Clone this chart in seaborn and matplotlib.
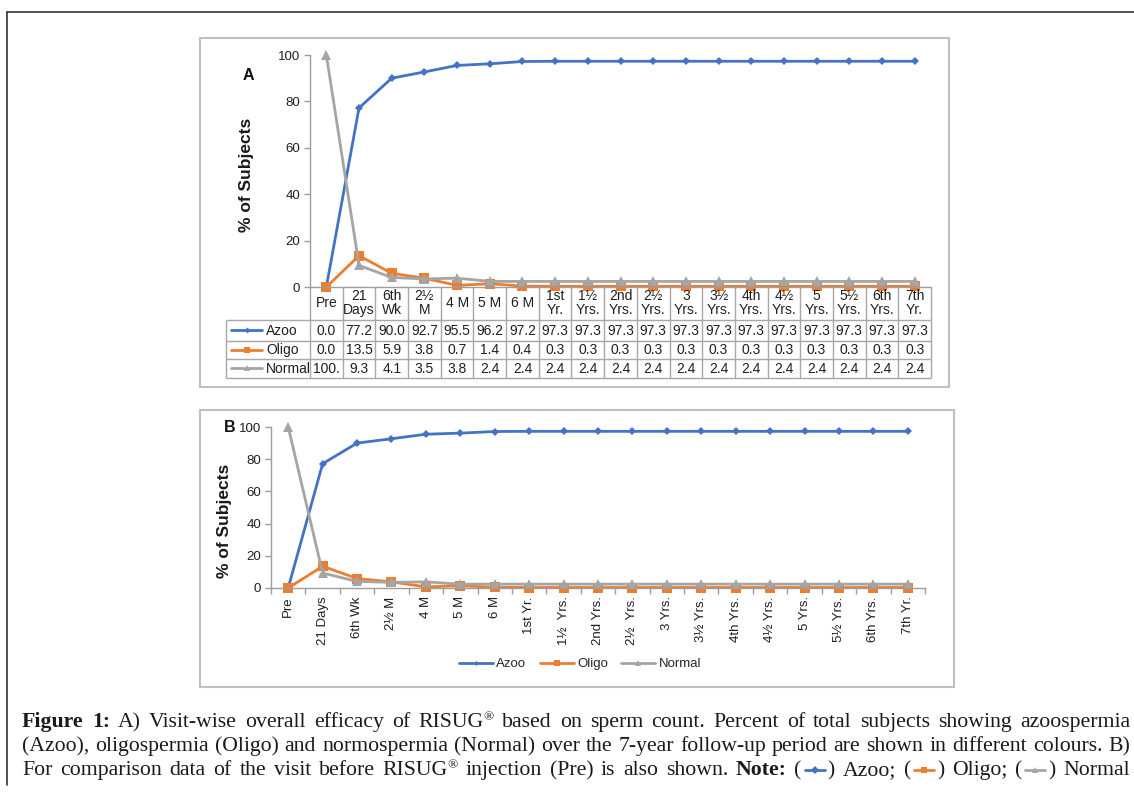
import matplotlib
matplotlib.use('Agg')
import matplotlib.pyplot as plt
from matplotlib.lines import Line2D
from matplotlib.patches import Rectangle
import numpy as np
import pandas as pd
import seaborn as sns

# visits (x axis) and the three outcome series (% of subjects)
visits = ['Pre', '21 Days', '6th Wk', '2½ M', '4 M', '5 M', '6 M', '1st Yr.',
          '1½  Yrs.', '2nd Yrs.', '2½  Yrs.', '3 Yrs.', '3½ Yrs.', '4th Yrs.',
          '4½ Yrs.', '5 Yrs.', '5½ Yrs.', '6th Yrs.', '7th Yr.']
table_heads = ['Pre', '21\nDays', '6th\nWk', '2½\nM', '4 M', '5 M', '6 M', '1st\nYr.',
               '1½\nYrs.', '2nd\nYrs.', '2½\nYrs.', '3\nYrs.', '3½\nYrs.', '4th\nYrs.',
               '4½\nYrs.', '5\nYrs.', '5½\nYrs.', '6th\nYrs.', '7th\nYr.']
azoo = [0.0, 77.2, 90.0, 92.7, 95.5, 96.2, 97.2, 97.3, 97.3, 97.3,
        97.3, 97.3, 97.3, 97.3, 97.3, 97.3, 97.3, 97.3, 97.3]
oligo = [0.0, 13.5, 5.9, 3.8, 0.7, 1.4, 0.4, 0.3, 0.3, 0.3,
         0.3, 0.3, 0.3, 0.3, 0.3, 0.3, 0.3, 0.3, 0.3]
normal = [100.0, 9.3, 4.1, 3.5, 3.8, 2.4, 2.4, 2.4, 2.4, 2.4,
          2.4, 2.4, 2.4, 2.4, 2.4, 2.4, 2.4, 2.4, 2.4]
series = ['Azoo', 'Oligo', 'Normal']

df = pd.DataFrame({'pos': list(range(len(visits))) * 3,
                   'series': ['Azoo'] * len(visits) + ['Oligo'] * len(visits) + ['Normal'] * len(visits),
                   'value': azoo + oligo + normal})

colors = {'Azoo': '#4472C4', 'Oligo': '#ED7D31', 'Normal': '#A5A5A5'}
markers = {'Azoo': 'D', 'Oligo': 's', 'Normal': '^'}
msizes = {'Azoo': 4.5, 'Oligo': 6.5, 'Normal': 6.5}

sns.set_style('white')
plt.rcParams['font.family'] = ['Liberation Sans', 'DejaVu Sans']
narrow = ['Liberation Sans Narrow', 'Liberation Sans', 'DejaVu Sans']
axis_grey = '#9E9E9E'
txt_col = '#1f1f1f'

W, H = 1134, 798
fig = plt.figure(figsize=(W / 100, H / 100), dpi=100)


def box(l, t, r, b):
    return [l / W, 1 - b / H, (r - l) / W, (b - t) / H]


def draw_lines(ax):
    for name in series:
        sns.lineplot(data=df[df['series'] == name], x='pos', y='value', ax=ax,
                     color=colors[name], marker=markers[name], markersize=msizes[name],
                     markeredgewidth=0, linewidth=2, errorbar=None, sort=False,
                     clip_on=False, legend=False)
    ax.set_xlim(-0.5, len(visits) - 0.5)
    ax.set_ylim(0, 100)
    ax.set_yticks(range(0, 101, 20))
    ax.set_xlabel('')
    ax.set_ylabel('')
    for s in ['top', 'right']:
        ax.spines[s].set_visible(False)
    for s in ['left', 'bottom']:
        ax.spines[s].set_color(axis_grey)
        ax.spines[s].set_linewidth(1)
    ax.tick_params(axis='y', left=True, length=4, width=1, color=axis_grey,
                   labelsize=9.5, labelcolor=txt_col, pad=3)


# outer frame and panel boxes
fig.add_artist(Line2D([7 / W, 7 / W], [1 - 12 / H, 1 - 785 / H], color='#333333', lw=1.2))
fig.add_artist(Line2D([7 / W, 1], [1 - 12 / H, 1 - 12 / H], color='#333333', lw=1.2))
fig.add_artist(Rectangle((200 / W, 1 - 387 / H), 749 / W, 349 / H, fill=False,
                         ec='#C0C0C0', lw=1.5, transform=fig.transFigure))
fig.add_artist(Rectangle((200 / W, 1 - 687 / H), 754 / W, 277 / H, fill=False,
                         ec='#C0C0C0', lw=1.5, transform=fig.transFigure))

# ---------------- panel A with data table ----------------
axA = fig.add_axes(box(310, 55, 931, 287))
draw_lines(axA)
axA.set_xticks([])
fig.text(247 / W, 1 - 175 / H, '% of Subjects', rotation=90, ha='center', va='center',
         fontsize=12.5, fontweight='bold', color='#1a1a1a')
fig.text(248 / W, 1 - 75 / H, 'A', ha='center', va='center', fontsize=11.5,
         fontweight='bold', color='#111111')

axT = fig.add_axes(box(226, 287, 931, 378))
axT.axis('off')
colw = (931 - 310) / len(visits)
x0 = -0.5 - (310 - 226) / colw
xr = len(visits) - 0.5
axT.set_xlim(x0, xr)
axT.set_ylim(91, 0)
rows = [0, 33, 54, 72, 91]
grid = '#A8A8A8'
axT.vlines(np.arange(-0.5, len(visits), 1.0), 0, 91, color=grid, lw=1, clip_on=False)
axT.vlines([x0], 33, 91, color=grid, lw=1, clip_on=False)
axT.hlines(rows[1:], x0, xr, color=grid, lw=1, clip_on=False)
for i, h in enumerate(table_heads):
    axT.text(i, 16.5, h, ha='center', va='center', fontsize=10, family=narrow,
             color=txt_col, linespacing=1.0)
for r, (name, vals) in enumerate(zip(series, [azoo, oligo, normal])):
    yc = (rows[r + 1] + rows[r + 2]) / 2
    for i, v in enumerate(vals):
        axT.text(i, yc + 0.5, f'{v:.1f}'[:4], ha='center', va='center', fontsize=10,
                 family=narrow, color=txt_col)
    xa = x0 + 5 / colw
    xb = x0 + 36 / colw
    axT.plot([xa, (xa + xb) / 2, xb], [yc, yc, yc], color=colors[name], lw=2,
             marker=markers[name], markersize=msizes[name] - 1.5, markevery=[1],
             markeredgewidth=0, clip_on=False)
    axT.text(x0 + 40 / colw, yc + 0.5, name, ha='left', va='center', fontsize=10,
             family=narrow, color=txt_col)

# ---------------- panel B ----------------
axB = fig.add_axes(box(271, 427, 925, 588))
draw_lines(axB)
axB.set_xticks(range(len(visits)))
axB.set_xticklabels(visits, rotation=90, fontsize=9.5, color=txt_col, family=narrow)
axB.set_xticks(np.arange(-0.5, len(visits), 1.0), minor=True)
axB.tick_params(axis='x', which='major', length=0, pad=6)
axB.tick_params(axis='x', which='minor', bottom=True, length=4, width=1, color=axis_grey)
fig.text(225 / W, 1 - 521 / H, '% of Subjects', rotation=90, ha='center', va='center',
         fontsize=12.5, fontweight='bold', color='#1a1a1a')
fig.text(230 / W, 1 - 428 / H, 'B', ha='center', va='center', fontsize=11.5,
         fontweight='bold', color='#111111')

handles = [Line2D([], [], color=colors[n], lw=2, marker=markers[n], markersize=msizes[n] - 2,
                  markeredgewidth=0) for n in series]
fig.legend(handles, series, loc='center', bbox_to_anchor=(580 / W, 1 - 664 / H), ncol=3,
           frameon=False, handlelength=2.6, handletextpad=0.25,
           columnspacing=1.0, prop={'family': narrow, 'size': 9.5})

# ---------------- caption (justified lines) ----------------
cap_family = ['Liberation Serif', 'DejaVu Serif']
cap_size = 15.7
reg = dict(family=cap_family, size=cap_size, color='#1a1a1a')
bold = dict(family=cap_family, size=cap_size, color='#1a1a1a', weight='bold')
sup = dict(family=cap_family, size=9.5, color='#1a1a1a')


def words(text, style=reg):
    return [[(w, style)] for w in text.split(' ')]


cap_lines = [
    [[('Figure', bold)], [('1:', bold)], [('A)', reg)]] + words('Visit-wise overall efficacy of')
    + [[('RISUG', reg), ('®', sup)]] + words('based on sperm count. Percent of total subjects showing azoospermia'),
    words('(Azoo), oligospermia (Oligo) and normospermia (Normal) over the 7-year follow-up period are shown in different colours. B)'),
    words('For comparison data of the visit before') + [[('RISUG', reg), ('®', sup)]]
    + words('injection (Pre) is also shown.') + [[('Note:', bold)]]
    + [[('(', reg), ('#Azoo', None), (')', reg)], [('Azoo;', reg)],
       [('(', reg), ('#Oligo', None), (')', reg)], [('Oligo;', reg)],
       [('(', reg), ('#Normal', None), (')', reg)], [('Normal', reg)]],
]
baselines = [727, 751, 775]
left, right = 22, 1130
glyph_w = 26
renderer = fig.canvas.get_renderer()

for line, base in zip(cap_lines, baselines):
    placed = []
    total = 0
    for word in line:
        items = []
        for txt, st in word:
            if st is None:
                items.append((txt, None, glyph_w))
                continue
            dy = 7 if st is sup else 0
            t = fig.text(0, 1 - (base - dy) / H, txt, va='baseline', ha='left', **st)
            wpx = t.get_window_extent(renderer).width
            items.append((txt, t, wpx))
        placed.append(items)
        total += sum(it[2] for it in items)
    gap = max((right - left - total) / (len(line) - 1), 3)
    x = left
    for items in placed:
        for txt, t, wpx in items:
            if t is None:
                n = txt[1:]
                yy = 1 - (base - 5) / H
                fig.add_artist(Line2D([(x + 3) / W, (x + wpx / 2) / W, (x + wpx - 3) / W], [yy, yy, yy],
                                      color=colors[n], lw=2, marker=markers[n], markevery=[1],
                                      markersize=4, markeredgewidth=0))
            else:
                t.set_x(x / W)
            x += wpx
        x += gap

fig.savefig('out.png', dpi=100)
